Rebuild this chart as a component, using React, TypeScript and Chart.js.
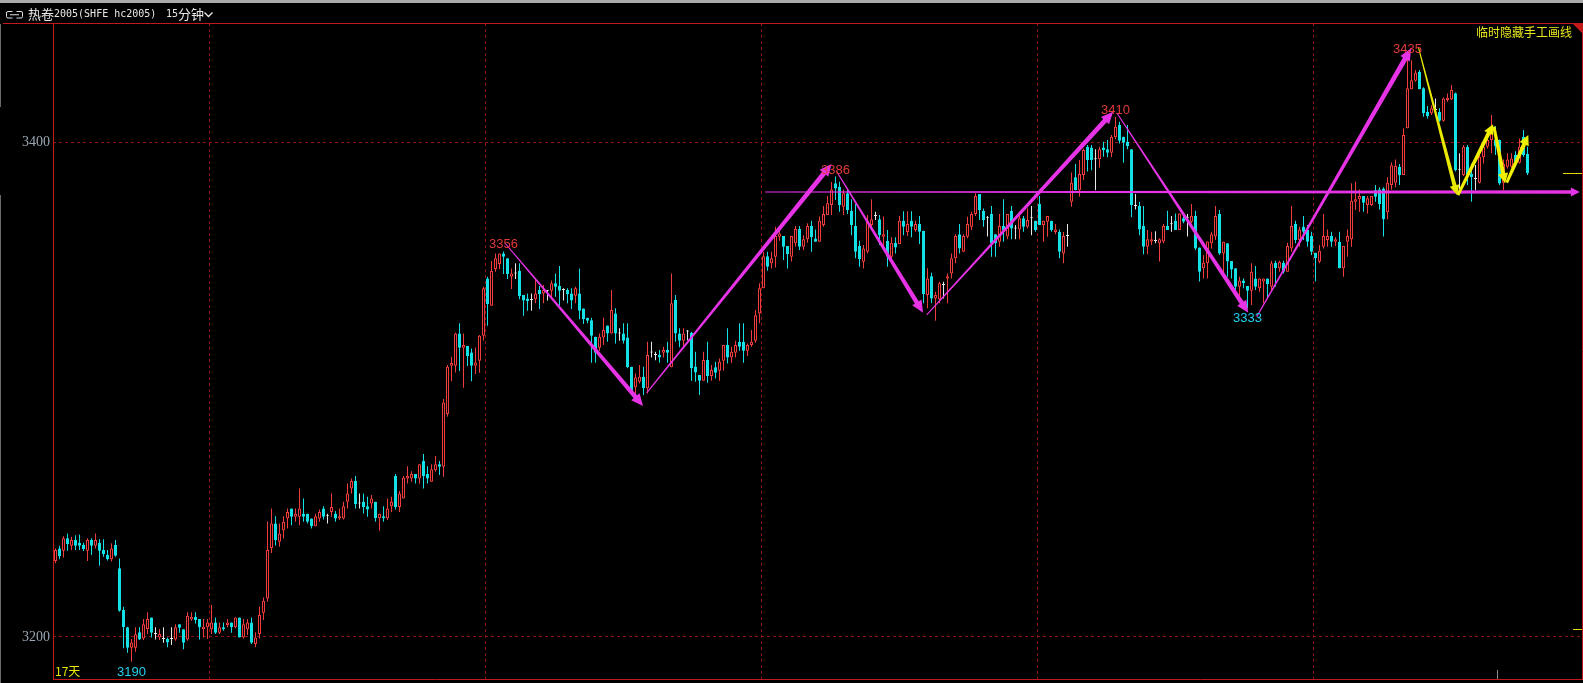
import React, { useEffect, useRef } from 'react';
import { Chart, registerables } from 'chart.js';

Chart.register(...registerables);

type Candle = [number, number, number, number]; // open, high, low, close

// ---- candle data (15-minute bars), split by the dashed day separators ----
const session1: Candle[] = [
  [3230.7,3235.8,3229.8,3235.2],[3235.8,3236.9,3231.5,3232.7],[3234.9,3240.8,3232.2,3239.9],[3239.9,3241.9,3234.9,3237.6],
  [3236.9,3240.6,3235.2,3239.2],[3239.2,3241.2,3235.2,3236.9],[3238.1,3241.5,3235.2,3236.9],[3237.2,3238.1,3234.8,3235.6],
  [3234.9,3239.9,3230.7,3239.2],[3239.2,3239.9,3233.2,3236.9],[3236.9,3241.9,3235.8,3239.2],[3238.1,3239.5,3228.8,3234.9],
  [3235.2,3239.5,3232.5,3233.5],[3233.2,3235.2,3230.9,3231.5],[3231.5,3237.9,3230.5,3235.8],[3237.2,3239.2,3232.5,3232.9],
  [3227.8,3231.8,3210.2,3210.6],[3210.9,3212.2,3195.4,3203.9],[3203.9,3204.1,3193.6,3195.6],[3195.6,3199.2,3190.0,3197.8],
  [3195.6,3203.9,3194.0,3201.1],[3201.9,3203.9,3198.8,3199.0],[3199.4,3207.3,3198.8,3205.2],[3203.2,3210.0,3201.2,3207.3],
  [3207.9,3207.9,3199.8,3201.7],[3201.2,3203.9,3199.0,3201.2],[3199.8,3203.2,3198.8,3201.2],[3199.2,3203.9,3197.7,3199.2],
  [3199.2,3199.8,3195.8,3197.8],[3199.2,3203.9,3196.8,3199.2],[3199.0,3205.2,3198.5,3203.9],[3205.2,3205.2,3201.7,3203.7],
  [3203.1,3203.1,3195.0,3197.7],[3199.0,3210.0,3198.5,3208.6],[3207.1,3210.0,3206.6,3208.2],[3208.2,3210.0,3205.5,3206.9],
  [3207.3,3207.3,3199.0,3203.9],[3203.1,3207.3,3199.8,3204.1],[3203.9,3207.3,3199.2,3205.9],
];
const session2: Candle[] = [
  [3203.1,3212.9,3201.2,3205.9],[3205.9,3207.9,3201.2,3201.7],[3201.7,3205.9,3201.2,3203.9],[3203.9,3205.9,3202.5,3203.1],
  [3204.8,3207.3,3203.9,3205.9],[3205.9,3205.9,3201.7,3203.9],[3203.9,3207.9,3203.5,3207.9],[3207.9,3207.9,3199.8,3199.8],
  [3199.8,3207.3,3199.4,3205.2],[3203.1,3207.3,3200.8,3205.9],[3205.9,3207.9,3197.2,3197.7],[3197.2,3201.9,3195.8,3199.8],
  [3201.2,3212.3,3199.4,3208.9],[3209.8,3216.0,3206.9,3214.7],[3215.6,3246.7,3214.3,3235.2],[3236.0,3252.0,3234.0,3245.9],
  [3245.9,3248.9,3237.0,3239.2],[3238.5,3245.9,3236.5,3241.9],[3243.2,3248.9,3239.8,3246.6],[3247.9,3252.0,3243.9,3250.6],
  [3252.0,3252.0,3245.2,3248.6],[3248.6,3252.0,3246.6,3249.9],[3248.6,3260.1,3245.2,3252.0],[3249.9,3256.0,3246.6,3248.6],
  [3249.9,3249.9,3245.9,3246.6],[3247.9,3247.9,3243.9,3244.8],[3244.8,3249.9,3244.8,3248.9],[3247.9,3251.6,3246.6,3250.6],
  [3252.0,3252.9,3247.5,3248.6],[3248.9,3249.9,3245.9,3248.9],[3250.6,3258.1,3248.6,3252.6],[3249.9,3251.0,3246.6,3247.9],
  [3247.9,3252.0,3247.3,3248.9],[3247.9,3254.7,3247.5,3252.9],[3254.7,3262.1,3252.0,3258.1],[3260.1,3264.1,3258.1,3263.1],
  [3263.1,3265.1,3252.0,3253.8],[3254.0,3258.1,3252.0,3254.0],[3254.7,3258.1,3250.0,3252.6],[3252.9,3256.7,3248.6,3251.6],
  [3254.0,3257.4,3252.0,3256.0],[3254.7,3254.7,3246.6,3248.0],[3248.0,3249.9,3243.0,3249.9],[3248.9,3252.9,3246.6,3248.0],
  [3248.0,3256.0,3247.3,3252.0],[3252.9,3256.7,3250.6,3254.7],[3265.1,3265.9,3251.6,3252.6],[3252.6,3259.1,3250.6,3258.1],
  [3256.0,3265.1,3256.0,3264.4],[3264.1,3269.1,3262.1,3265.1],[3264.1,3267.1,3262.8,3265.9],[3265.9,3265.9,3262.1,3264.1],
  [3264.1,3269.9,3262.1,3269.9],[3271.2,3274.0,3260.1,3265.1],[3265.9,3269.1,3262.1,3264.1],[3262.8,3269.9,3262.8,3267.9],
  [3267.5,3273.2,3266.9,3269.9],[3269.9,3271.2,3265.5,3268.9],[3268.9,3296.3,3264.8,3294.9],[3290.2,3310.0,3289.1,3309.3],
  [3309.7,3313.4,3303.5,3310.9],[3309.7,3323.1,3307.0,3322.8],[3322.8,3326.9,3307.6,3317.0],[3317.0,3322.8,3300.8,3318.1],
  [3317.7,3317.7,3309.6,3313.7],[3315.1,3316.7,3303.5,3309.7],[3309.7,3317.1,3306.4,3311.1],[3311.8,3322.2,3306.9,3321.9],
  [3321.9,3341.7,3320.0,3341.1],
];
const session3: Candle[] = [
  [3345.1,3345.8,3325.9,3334.7],[3334.0,3352.1,3334.0,3348.1],[3348.9,3355.2,3347.8,3353.2],[3350.9,3355.2,3348.9,3355.2],
  [3355.2,3356.0,3346.9,3353.9],[3353.2,3353.2,3344.8,3346.9],[3345.8,3349.1,3340.8,3347.1],[3347.1,3351.2,3344.8,3347.1],
  [3348.1,3351.2,3336.7,3337.9],[3338.4,3338.4,3330.0,3336.1],[3337.0,3339.0,3332.0,3335.9],[3336.3,3339.0,3332.0,3336.3],
  [3336.7,3345.1,3335.0,3339.0],[3340.4,3342.0,3332.7,3338.7],[3339.0,3342.4,3335.0,3340.4],[3340.1,3340.4,3336.1,3340.1],
  [3340.1,3344.2,3337.4,3343.1],[3343.1,3347.1,3337.7,3341.7],[3342.0,3350.1,3334.0,3340.1],[3340.4,3341.1,3336.1,3340.4],
  [3340.4,3341.1,3335.0,3338.7],[3339.0,3341.1,3332.7,3336.1],[3338.1,3341.7,3335.0,3341.1],[3339.0,3349.1,3328.6,3332.0],
  [3332.9,3332.9,3326.6,3328.6],[3329.2,3329.2,3326.9,3328.0],[3328.2,3329.2,3311.0,3321.9],[3321.5,3321.5,3311.0,3315.0],
  [3317.0,3322.8,3315.7,3321.5],[3321.2,3329.2,3318.1,3324.2],[3326.0,3326.0,3319.5,3322.8],[3322.8,3340.4,3322.8,3332.3],
  [3330.9,3333.0,3318.8,3322.8],[3322.8,3324.9,3319.9,3322.8],[3322.8,3326.9,3318.8,3319.9],[3321.2,3326.9,3308.7,3309.1],
  [3309.3,3309.3,3298.5,3299.2],[3301.0,3306.6,3297.2,3305.0],[3303.3,3310.0,3302.6,3305.3],[3305.3,3309.3,3297.9,3300.6],
  [3300.6,3319.5,3298.5,3314.1],[3315.1,3319.5,3313.1,3315.1],[3314.1,3315.4,3312.0,3314.1],[3314.1,3316.1,3311.0,3313.1],
  [3315.0,3317.4,3313.1,3316.1],[3316.1,3319.5,3311.0,3315.0],[3309.1,3347.1,3309.1,3335.0],[3336.3,3338.4,3319.5,3322.8],
  [3322.8,3324.9,3317.2,3319.9],[3319.9,3324.9,3317.2,3322.8],[3323.6,3324.2,3320.1,3323.6],[3323.1,3323.5,3303.7,3308.7],
  [3309.4,3315.4,3303.3,3307.0],[3306.0,3306.0,3297.9,3303.7],[3303.7,3315.4,3303.7,3312.1],[3312.1,3319.5,3302.9,3305.6],
  [3305.6,3310.0,3303.7,3308.0],[3309.1,3311.4,3304.6,3306.9],[3307.7,3312.7,3303.7,3311.4],[3311.8,3318.1,3307.7,3318.1],
  [3318.1,3324.9,3310.7,3313.1],[3313.1,3317.4,3310.9,3315.4],[3315.0,3319.9,3313.1,3318.1],[3319.5,3326.9,3315.8,3317.4],
  [3319.5,3326.9,3311.0,3315.8],[3315.8,3318.8,3313.7,3318.1],[3318.1,3324.2,3317.4,3319.5],[3319.9,3332.3,3319.1,3330.2],
  [3330.9,3343.1,3326.9,3341.1],
];
const session4: Candle[] = [
  [3341.1,3355.9,3341.1,3354.1],[3354.1,3355.9,3348.2,3349.8],[3351.2,3355.9,3349.1,3353.2],[3353.9,3366.0,3349.5,3362.2],
  [3361.9,3366.3,3360.3,3363.3],[3362.2,3362.2,3352.5,3357.9],[3358.2,3358.2,3349.1,3354.9],[3353.9,3362.2,3351.9,3362.2],
  [3359.3,3366.3,3357.9,3365.1],[3365.1,3366.3,3356.6,3357.9],[3357.9,3362.6,3356.6,3360.9],[3360.9,3367.4,3359.5,3366.3],
  [3366.3,3368.4,3355.9,3361.7],[3361.2,3364.9,3359.9,3359.9],[3359.9,3370.1,3359.9,3368.4],[3366.7,3374.4,3366.0,3371.1],
  [3370.7,3378.4,3370.7,3375.5],[3374.8,3384.1,3370.7,3381.1],[3383.6,3386.3,3376.8,3381.5],[3382.2,3384.2,3372.1,3374.8],
  [3374.1,3381.1,3370.7,3379.5],[3379.5,3381.1,3371.1,3372.8],[3372.5,3377.1,3362.6,3366.7],[3366.3,3375.2,3353.2,3355.9],
  [3358.2,3360.3,3349.8,3352.8],[3351.8,3358.6,3349.1,3357.2],[3355.9,3370.7,3355.2,3368.4],[3366.7,3377.1,3364.7,3369.0],
  [3370.3,3372.1,3368.7,3370.3],[3369.0,3370.7,3358.6,3362.6],[3361.9,3370.1,3356.6,3363.0],[3360.3,3364.7,3349.8,3353.9],
  [3353.9,3361.7,3351.9,3359.5],[3359.5,3361.7,3355.2,3357.6],[3359.0,3370.3,3359.0,3368.4],[3368.4,3372.3,3362.6,3366.0],
  [3363.9,3372.3,3362.2,3367.1],[3368.4,3372.3,3361.7,3366.0],[3364.7,3368.4,3364.0,3367.1],[3367.1,3370.3,3359.0,3364.0],
  [3364.4,3364.4,3335.0,3338.8],[3338.4,3349.2,3333.0,3345.1],[3346.0,3347.4,3335.0,3337.0],[3337.0,3339.7,3328.0,3338.4],
  [3336.6,3343.7,3335.0,3343.1],[3342.4,3343.7,3337.0,3342.4],[3345.1,3347.1,3335.0,3346.0],[3347.1,3355.2,3345.1,3353.2],
  [3353.2,3363.0,3351.2,3362.2],[3363.0,3367.1,3355.2,3357.2],[3355.9,3363.0,3355.9,3362.2],[3361.9,3370.0,3361.3,3367.1],
  [3366.0,3372.1,3364.7,3371.1],[3371.1,3379.5,3370.3,3378.4],[3379.2,3379.2,3368.7,3372.7],[3372.5,3373.4,3366.0,3368.7],
  [3369.4,3370.3,3362.0,3369.4],[3371.1,3374.4,3353.9,3359.3],[3363.0,3363.0,3353.9,3359.3],[3359.9,3371.1,3357.9,3366.3],
  [3366.3,3377.1,3359.9,3364.7],[3362.0,3371.1,3360.9,3371.1],[3372.5,3374.4,3360.9,3365.3],[3365.3,3366.7,3360.9,3365.3],
  [3364.9,3372.1,3360.9,3369.4],[3369.4,3370.3,3364.0,3366.0],[3366.0,3373.4,3365.3,3368.7],[3369.4,3374.4,3362.6,3369.4],
  [3368.4,3368.4,3364.0,3364.7],
];
const session5: Candle[] = [
  [3375.2,3378.4,3366.7,3366.7],[3366.7,3368.4,3359.9,3368.4],[3368.0,3370.3,3361.9,3370.3],[3368.4,3368.4,3364.0,3364.7],
  [3363.9,3367.1,3363.0,3364.9],[3363.9,3364.9,3353.2,3355.9],[3355.2,3363.9,3351.2,3362.2],[3362.2,3367.1,3357.9,3362.2],
  [3376.1,3387.9,3374.1,3383.8],[3386.0,3391.4,3380.8,3380.8],[3380.8,3393.0,3378.1,3387.3],[3386.9,3397.7,3384.9,3397.0],
  [3398.4,3399.1,3388.3,3393.0],[3398.1,3399.1,3388.9,3393.0],[3393.3,3397.3,3380.8,3393.3],[3393.3,3398.4,3390.0,3397.3],
  [3398.1,3400.4,3394.3,3397.0],[3397.3,3401.1,3394.1,3395.9],[3395.9,3403.1,3394.1,3402.4],[3402.2,3410.4,3401.4,3406.5],
  [3407.2,3408.5,3399.7,3400.8],[3402.4,3402.4,3391.9,3400.0],[3400.4,3407.2,3397.3,3398.7],[3397.3,3397.3,3369.8,3374.8],
  [3374.4,3379.2,3373.0,3374.4],[3374.4,3376.1,3362.6,3364.9],[3366.3,3374.4,3354.9,3357.9],[3357.9,3364.7,3354.9,3360.9],
  [3360.0,3364.0,3358.6,3360.9],[3360.2,3364.2,3359.3,3360.2],[3359.3,3361.3,3351.9,3360.9],[3360.0,3367.1,3359.3,3366.3],
  [3366.3,3372.5,3364.7,3364.7],[3367.0,3370.3,3364.0,3367.0],[3368.4,3371.4,3364.7,3364.7],[3364.7,3371.4,3364.7,3371.4],
  [3369.4,3371.1,3367.4,3368.0],[3369.4,3371.1,3362.0,3369.4],[3368.0,3375.2,3367.4,3370.3],[3370.3,3372.5,3356.6,3357.2],
  [3357.6,3357.6,3343.8,3347.8],[3349.2,3354.6,3345.1,3351.4],[3351.2,3360.0,3345.1,3360.0],[3359.3,3364.0,3357.2,3363.0],
  [3362.0,3374.4,3360.6,3370.3],[3371.1,3372.8,3354.6,3355.2],[3355.2,3359.9,3345.8,3359.9],[3359.3,3359.3,3345.8,3351.9],
  [3352.1,3352.1,3345.1,3348.7],[3349.2,3349.2,3340.4,3341.7],[3341.7,3345.8,3337.7,3344.2],[3344.2,3345.1,3341.1,3343.1],
  [3342.0,3342.0,3333.0,3340.1],[3340.1,3351.2,3334.3,3347.8],[3345.1,3350.1,3340.4,3341.7],[3341.1,3345.1,3339.7,3345.1],
  [3343.8,3345.1,3335.0,3345.1],[3345.1,3345.1,3337.0,3342.8],[3341.7,3352.2,3340.4,3351.2],[3351.4,3352.2,3341.7,3349.2],
  [3349.2,3352.2,3347.8,3351.8],[3351.4,3352.2,3347.1,3347.8],[3347.8,3359.5,3347.8,3358.2],[3357.2,3374.4,3355.9,3366.3],
  [3367.1,3368.4,3359.3,3360.6],[3360.6,3366.0,3357.9,3364.9],[3366.0,3370.3,3360.6,3364.0],[3364.7,3366.7,3357.9,3359.9],
  [3362.2,3364.0,3354.6,3355.9],
];
const session6: Candle[] = [
  [3355.5,3355.5,3343.8,3353.2],[3351.8,3358.6,3351.2,3356.3],[3357.9,3371.1,3357.2,3362.2],[3360.6,3364.9,3357.9,3362.2],
  [3362.2,3364.0,3357.9,3359.9],[3359.9,3361.7,3358.2,3360.9],[3359.9,3364.0,3349.2,3349.2],[3349.2,3358.2,3345.8,3358.2],
  [3359.9,3364.9,3353.9,3362.2],[3360.9,3383.6,3357.9,3376.5],[3376.1,3384.2,3372.8,3377.1],[3377.1,3381.1,3372.1,3378.4],
  [3378.4,3378.4,3372.1,3375.7],[3374.8,3378.4,3371.4,3377.5],[3374.8,3378.4,3374.4,3378.4],[3380.8,3382.9,3376.1,3378.1],
  [3381.1,3382.0,3373.0,3375.2],[3381.5,3382.0,3362.0,3369.0],[3371.9,3386.0,3369.0,3383.8],[3382.9,3392.0,3381.0,3390.9],
  [3383.8,3393.2,3382.0,3390.7],[3390.2,3391.4,3382.9,3386.9],[3386.9,3405.8,3386.9,3403.1],[3405.8,3435.0,3405.8,3422.0],
  [3421.6,3433.4,3421.6,3425.3],[3425.1,3429.4,3424.7,3428.3],[3428.7,3429.4,3421.6,3421.6],[3422.0,3422.4,3410.5,3411.9],
  [3412.5,3414.8,3409.8,3410.8],[3411.9,3415.2,3411.2,3413.9],[3413.2,3417.9,3412.5,3413.2],[3412.5,3413.9,3408.5,3408.9],
  [3408.9,3418.3,3408.5,3417.9],[3417.3,3419.9,3416.6,3418.2],[3417.5,3423.3,3417.3,3421.3],[3420.0,3420.3,3388.3,3388.9],
  [3388.9,3395.7,3380.8,3388.9],[3386.9,3399.1,3386.5,3398.4],[3398.4,3399.1,3382.9,3386.9],[3387.3,3391.6,3376.1,3386.0],
  [3385.3,3391.0,3380.8,3385.3],[3383.8,3395.0,3383.5,3394.3],[3394.1,3399.7,3391.6,3398.4],[3398.4,3402.4,3397.7,3401.1],
  [3401.1,3411.2,3395.7,3406.7],[3401.3,3406.7,3395.0,3398.6],[3401.1,3401.3,3382.9,3383.5],[3383.8,3393.2,3380.8,3391.4],
  [3390.3,3395.7,3389.6,3393.2],[3390.3,3395.7,3389.6,3393.6],[3395.0,3396.5,3391.0,3392.3],[3391.9,3401.7,3391.6,3398.4],
  [3402.4,3405.1,3394.3,3395.0],[3395.4,3398.4,3386.9,3387.6],
];

const candles: Candle[] = [...session1, ...session2, ...session3, ...session4, ...session5, ...session6];
const opens = candles.map((c) => c[0]);
const highs = candles.map((c) => c[1]);
const lows = candles.map((c) => c[2]);
const closes = candles.map((c) => c[3]);

// y-axis labels and day separators (in bar index units)
const yTicks = [3200, 3400];
const dayBreaks = [38.45, 107.45, 176.45, 245.45, 314.45];

// swing points marked on the chart (bar indexes)
const swingHighs = [112, 195, 265, 338];
const swingLows = [19, 298];

// hand-drawn trend lines [barIndex, price]
const magentaArrows = [
  { from: [112.4, 3359.3], to: [146.9, 3293.5], w: [1, 4.5] },
  { from: [147.8, 3298.8], to: [194.0, 3391.4], w: [1.2, 5] },
  { from: [195.3, 3388.3], to: [216.9, 3331.2], w: [1, 4.5] },
  { from: [217.8, 3330.3], to: [264.4, 3412.5], w: [1, 5] },
  { from: [265.3, 3412.1], to: [298.2, 3331.2], w: [1, 4.5] },
  { from: [300.3, 3329.6], to: [338.9, 3438.2], w: [1.2, 5] },
];
const supportLine = { from: [177.4, 3380], to: [381.1, 3380], w: [1, 3.5] };
const yellowArrows = [
  { from: [340.7, 3438.8], to: [350.4, 3378.8], w: [1, 4] },
  { from: [350.6, 3378.8], to: [359.4, 3407.5], w: [3, 4] },
  { from: [359.6, 3406.5], to: [362.4, 3383.6], w: [3, 4] },
  { from: [362.8, 3383.8], to: [368.2, 3403.1], w: [3, 4] },
];
const markerPrices = [3203];
const cursorIndex = 360.4;

const X_MIN = -0.625;
const X_MAX = 381.625;
const Y_MIN = 3183.0;
const Y_MAX = 3448.43;

const RED = '#f03c3c';
const CYAN = '#14e1e6';
const WHITE = '#e6e6e6';
const MAGENTA = '#e633e6';
const YELLOW = '#f0f000';
const FRAME = '#c21a1a';
const GRID = '#8e1414';
const LABEL_RED = '#e23a3a';
const LABEL_CYAN = '#22d0ee';

function dir(i: number) {
  return closes[i] > opens[i] ? 1 : closes[i] < opens[i] ? -1 : 0;
}

function taperedArrow(ctx: CanvasRenderingContext2D, x0: number, y0: number, x1: number, y1: number,
  w0: number, w1: number, headLen: number, headHalf: number, color: string) {
  const dx = x1 - x0, dy = y1 - y0;
  const len = Math.hypot(dx, dy);
  const ux = dx / len, uy = dy / len;
  const nx = -uy, ny = ux;
  const bx = x1 - ux * headLen, by = y1 - uy * headLen;
  ctx.fillStyle = color;
  ctx.beginPath();
  ctx.moveTo(x0 + nx * w0 / 2, y0 + ny * w0 / 2);
  ctx.lineTo(bx + nx * w1 / 2, by + ny * w1 / 2);
  ctx.lineTo(bx + nx * headHalf, by + ny * headHalf);
  ctx.lineTo(x1, y1);
  ctx.lineTo(bx - nx * headHalf, by - ny * headHalf);
  ctx.lineTo(bx - nx * w1 / 2, by - ny * w1 / 2);
  ctx.lineTo(x0 - nx * w0 / 2, y0 - ny * w0 / 2);
  ctx.closePath();
  ctx.fill();
}

const decorations = {
  id: 'decorations',
  beforeDraw(chart: any) {
    const { ctx, width, height } = chart;
    ctx.save();
    ctx.fillStyle = '#000';
    ctx.fillRect(0, 0, width, height);
    ctx.restore();
  },
  beforeDatasetsDraw(chart: any) {
    const { ctx, chartArea: a, scales } = chart;
    const x = scales.x, y = scales.y;
    ctx.save();
    ctx.strokeStyle = GRID;
    ctx.lineWidth = 1;
    ctx.setLineDash([3, 3]);
    yTicks.forEach((v) => {
      const py = Math.floor(y.getPixelForValue(v)) + 0.5;
      ctx.beginPath(); ctx.moveTo(a.left, py); ctx.lineTo(a.right, py); ctx.stroke();
    });
    dayBreaks.forEach((v) => {
      const px = Math.floor(x.getPixelForValue(v)) + 0.5;
      ctx.beginPath(); ctx.moveTo(px, a.top); ctx.lineTo(px, a.bottom); ctx.stroke();
    });
    ctx.restore();
  },
  afterDatasetsDraw(chart: any) {
    const { ctx, chartArea: a, scales } = chart;
    const x = scales.x, y = scales.y;
    const P = (pt: number[]) => [x.getPixelForValue(pt[0]), y.getPixelForValue(pt[1])];
    ctx.save();
    ctx.beginPath();
    ctx.rect(a.left, a.top, a.right - a.left, a.bottom - a.top);
    ctx.clip();

    // support line
    {
      const [x0, y0] = P(supportLine.from), [x1, y1] = P(supportLine.to);
      taperedArrow(ctx, x0, y0, x1, y1, supportLine.w[0], supportLine.w[1], 9, 4.5, MAGENTA);
    }
    magentaArrows.forEach((ar) => {
      const [x0, y0] = P(ar.from), [x1, y1] = P(ar.to);
      taperedArrow(ctx, x0, y0, x1, y1, ar.w[0], ar.w[1], 12, 5.5, MAGENTA);
    });
    yellowArrows.forEach((ar, k) => {
      const [x0, y0] = P(ar.from), [x1, y1] = P(ar.to);
      taperedArrow(ctx, x0, y0, x1, y1, ar.w[0], ar.w[1], 10, 5, k === 0 ? '#e8e800' : YELLOW);
    });

    // swing labels
    ctx.font = '13px "Liberation Sans", Arial, sans-serif';
    ctx.textAlign = 'center';
    ctx.textBaseline = 'alphabetic';
    ctx.fillStyle = LABEL_RED;
    swingHighs.forEach((i) => {
      ctx.fillText(String(Math.round(highs[i])), x.getPixelForValue(i), y.getPixelForValue(highs[i]) - 3);
    });
    ctx.fillStyle = LABEL_CYAN;
    swingLows.forEach((i) => {
      ctx.fillText(String(Math.round(lows[i])), x.getPixelForValue(i), y.getPixelForValue(lows[i]) + 14);
    });

    // days count
    ctx.textAlign = 'left';
    ctx.fillStyle = '#e6e600';
    ctx.font = '12px "Noto Sans CJK SC", sans-serif';
    ctx.fillText(`${17}天`, a.left + 2, 676);

    // top-right note
    ctx.textAlign = 'right';
    ctx.textBaseline = 'middle';
    ctx.fillStyle = '#e6e61e';
    ctx.fillText('临时隐藏手工画线', 1572, 32);

    // last price & marker ticks on the right edge
    ctx.strokeStyle = '#e6d800';
    ctx.lineWidth = 1;
    const lastY = Math.floor(y.getPixelForValue(closes[closes.length - 1])) + 0.5;
    ctx.beginPath(); ctx.moveTo(1563, lastY); ctx.lineTo(a.right, lastY); ctx.stroke();
    markerPrices.forEach((v) => {
      const py = Math.floor(y.getPixelForValue(v)) + 0.5;
      ctx.beginPath(); ctx.moveTo(1573, py); ctx.lineTo(a.right, py); ctx.stroke();
    });
    // cursor tick
    ctx.strokeStyle = '#8a8a8a';
    const cx = Math.floor(x.getPixelForValue(cursorIndex)) + 0.5;
    ctx.beginPath(); ctx.moveTo(cx, a.bottom - 9); ctx.lineTo(cx, a.bottom); ctx.stroke();
    ctx.restore();

    // frame
    ctx.save();
    ctx.strokeStyle = FRAME;
    ctx.lineWidth = 1;
    ctx.beginPath();
    ctx.moveTo(3, a.top + 0.5); ctx.lineTo(1583, a.top + 0.5);
    ctx.moveTo(a.left + 0.5, a.top); ctx.lineTo(a.left + 0.5, a.bottom + 1);
    ctx.moveTo(a.right + 0.5, a.top); ctx.lineTo(a.right + 0.5, a.bottom + 1);
    ctx.moveTo(a.left, a.bottom + 0.5); ctx.lineTo(1583, a.bottom + 0.5);
    ctx.stroke();
    ctx.fillStyle = FRAME;
    ctx.beginPath();
    ctx.moveTo(a.right - 9, a.top + 1); ctx.lineTo(a.right + 1, a.top + 1); ctx.lineTo(a.right + 1, a.top + 11);
    ctx.closePath(); ctx.fill();
    ctx.strokeStyle = '#6a6a6a';
    ctx.beginPath();
    ctx.moveTo(0.5, 24); ctx.lineTo(0.5, 107);
    ctx.moveTo(0.5, 195); ctx.lineTo(0.5, 683);
    ctx.stroke();
    ctx.restore();
  },
};

export default function App() {
  const ref = useRef<HTMLCanvasElement | null>(null);

  useEffect(() => {
    document.body.style.margin = '0';
    document.body.style.background = '#000';
    const canvas = ref.current;
    if (!canvas) return;

    const bodyData = candles.map((c, i) => ({ x: i, y: [c[0], c[3]] }));
    const wickData = candles.map((c, i) => ({ x: i, y: [c[2], c[1]] }));
    const bodyFill = candles.map((_, i) => (dir(i) > 0 ? '#000000' : dir(i) < 0 ? CYAN : WHITE));
    const bodyBorder = candles.map((_, i) => (dir(i) > 0 ? RED : dir(i) < 0 ? CYAN : WHITE));

    const chart = new Chart(canvas, {
      type: 'bar',
      data: {
        datasets: [
          {
            label: 'body',
            data: bodyData as any,
            backgroundColor: bodyFill,
            borderColor: bodyBorder,
            borderWidth: 1,
            borderSkipped: false,
            barThickness: 3,
            minBarLength: 1,
            grouped: false,
            inflateAmount: 0,
            order: 0,
          } as any,
          {
            label: 'wick',
            data: wickData as any,
            backgroundColor: bodyBorder,
            borderWidth: 0,
            barThickness: 1,
            minBarLength: 1,
            grouped: false,
            inflateAmount: 0,
            order: 1,
          } as any,
        ],
      },
      options: {
        responsive: false,
        animation: false,
        devicePixelRatio: 1,
        events: [],
        layout: { padding: { top: 23, right: 1, bottom: 4, left: 0 } },
        plugins: {
          legend: { display: false },
          tooltip: { enabled: false },
          title: { display: false },
        },
        scales: {
          x: {
            type: 'linear',
            min: X_MIN,
            max: X_MAX,
            offset: false,
            display: false,
            grid: { display: false },
          },
          y: {
            type: 'linear',
            position: 'left',
            min: Y_MIN,
            max: Y_MAX,
            grid: { display: false, drawTicks: false },
            border: { display: false },
            afterFit: (s: any) => {
              s.width = 53;
              s.paddingTop = 0;
              s.paddingBottom = 0;
            },
            afterBuildTicks: (s: any) => { s.ticks = yTicks.map((v) => ({ value: v })); },
            ticks: {
              color: '#9aa6b2',
              padding: 3,
              font: { family: '"Liberation Serif", serif', size: 14 },
              callback: (v: any) => String(v),
            },
          },
        },
      } as any,
      plugins: [decorations],
    });
    return () => chart.destroy();
  }, []);

  const mono: React.CSSProperties = { fontFamily: '"DejaVu Sans Mono", monospace', fontSize: 10 };
  const cjk: React.CSSProperties = { fontFamily: '"Noto Sans CJK SC", sans-serif', fontSize: 13 };
  const row: React.CSSProperties = { position: 'absolute', top: 4, height: 19, lineHeight: '19px', color: '#e8e8e8', whiteSpace: 'nowrap' };

  return (
    <div style={{ position: 'relative', width: 1583, height: 683, background: '#000', overflow: 'hidden' }}>
      <canvas ref={ref} width={1583} height={683} style={{ position: 'absolute', left: 0, top: 0, width: 1583, height: 683, display: 'block' }} />
      <div style={{ position: 'absolute', left: 0, top: 0, width: 1583, height: 3, background: '#ababab' }} />
      <svg style={{ position: 'absolute', left: 6, top: 11 }} width={18} height={8}>
        <path d="M6.5 0.5 H2 Q0.5 0.5 0.5 2 V5.5 Q0.5 7 2 7 H6.5" stroke="#e0e0e0" fill="none" />
        <path d="M10.5 0.5 H15 Q16.5 0.5 16.5 2 V5.5 Q16.5 7 15 7 H10.5" stroke="#e0e0e0" fill="none" />
        <line x1={4} y1={3.75} x2={13} y2={3.75} stroke="#e0e0e0" />
      </svg>
      <span style={{ ...row, ...cjk, left: 28 }}>热卷</span>
      <span style={{ ...row, ...mono, left: 54 }}>2005(SHFE hc2005)</span>
      <span style={{ ...row, ...mono, left: 166 }}>15</span>
      <span style={{ ...row, ...cjk, left: 178 }}>分钟</span>
      <svg style={{ position: 'absolute', left: 204, top: 12 }} width={10} height={6}>
        <polyline points="0.5,0.5 4.5,4.5 8.5,0.5" stroke="#e8e8e8" fill="none" strokeWidth={1.3} />
      </svg>
    </div>
  );
}
